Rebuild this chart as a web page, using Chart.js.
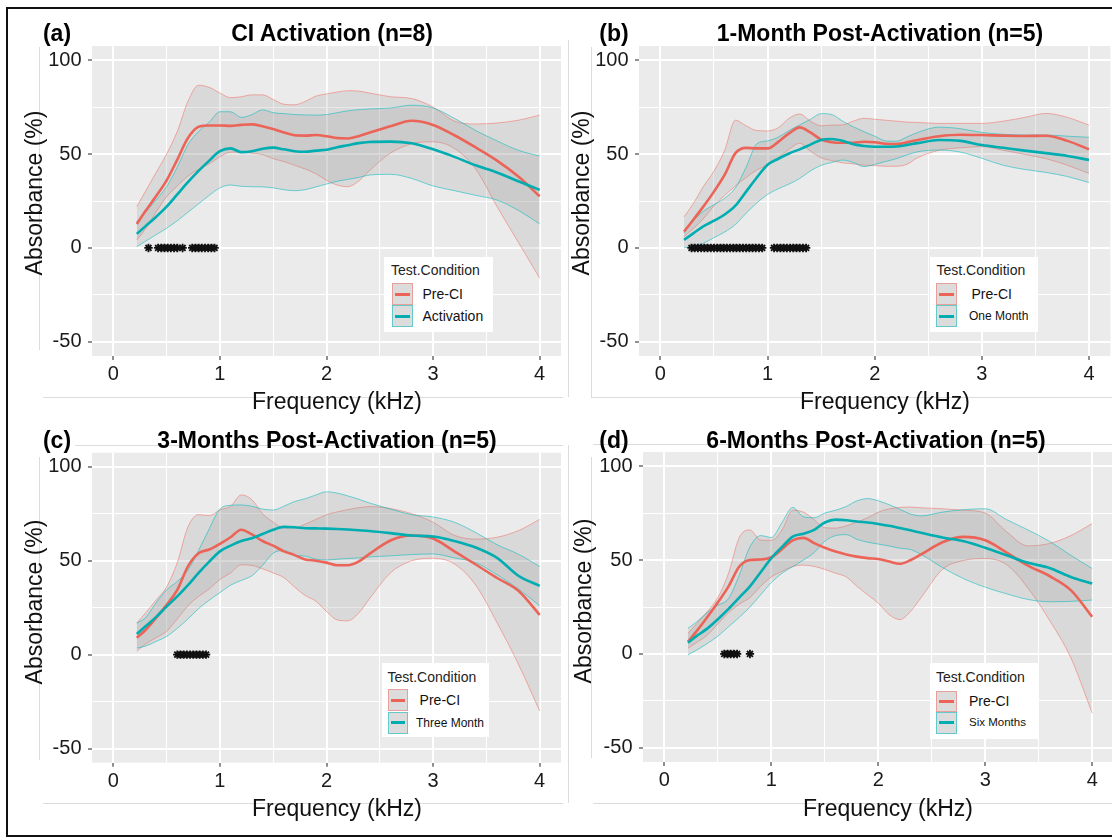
<!DOCTYPE html>
<html>
<head>
<meta charset="utf-8">
<title>Absorbance by test condition</title>
<script src="https://cdn.jsdelivr.net/npm/chart.js@4.4.1/dist/chart.umd.min.js"></script>
<style>
  html, body { margin: 0; padding: 0; background: #fff; }
  body { width: 1112px; height: 839px; overflow: hidden; position: relative;
         font-family: "Liberation Sans", Arial, Helvetica, sans-serif; color: #111; }
  canvas { position: absolute; }
  .frame { position: absolute; left: 6px; top: 7px; width: 1130px; height: 826px; border: 2.5px solid #111; }
  .edge { position: absolute; background: #dcdcdc; }
  .lbl { position: absolute; transform: translate(-50%, -50%); white-space: nowrap; line-height: 1; }
  .ttl { font-weight: bold; font-size: 23px; color: #000; }
  .axt { font-size: 23px; color: #111; }
  .yt { transform: translate(-50%, -50%) rotate(-90deg); }
  .legend { position: absolute; background: #fff; }
  .legend .head { position: absolute; font-size: 14px; color: #222; transform: translateY(-50%); line-height: 1; white-space: nowrap; }
  .legend .key { position: absolute; box-sizing: border-box; background: #dcdcdc; }
  .legend .key i { position: absolute; left: 2px; right: 2px; top: 50%; height: 3px; margin-top: -1.5px; }
  .legend .txt { position: absolute; color: #111; transform: translateY(-50%); line-height: 1; white-space: nowrap; }
</style>
</head>
<body>
<div class="frame"></div>

<!-- panel borders left over from the figure layout -->
<div class="edge" style="left:39px;top:47px;width:1px;height:303px"></div>
<div class="edge" style="left:43px;top:397px;width:520px;height:1px"></div>
<div class="edge" style="left:568px;top:40px;width:1px;height:357px"></div>
<div class="edge" style="left:591px;top:47px;width:1px;height:350px"></div>
<div class="edge" style="left:591px;top:397px;width:521px;height:1px"></div>
<div class="edge" style="left:39px;top:457px;width:1px;height:303px"></div>
<div class="edge" style="left:75px;top:445px;width:488px;height:1px"></div>
<div class="edge" style="left:43px;top:803px;width:520px;height:1px"></div>
<div class="edge" style="left:568px;top:445px;width:1px;height:358px"></div>
<div class="edge" style="left:591px;top:457px;width:1px;height:301px"></div>
<div class="edge" style="left:593px;top:444px;width:519px;height:1px"></div>
<div class="edge" style="left:593px;top:803px;width:519px;height:1px"></div>

<canvas id="chartA" width="560" height="360" style="left:10px;top:40px"></canvas>
<canvas id="chartB" width="560" height="360" style="left:557px;top:40px"></canvas>
<canvas id="chartC" width="560" height="360" style="left:10px;top:446px"></canvas>
<canvas id="chartD" width="560" height="360" style="left:561px;top:446px"></canvas>

<div class="lbl ttl" style="left:57px;top:33px">(a)</div>
<div class="lbl ttl" style="left:332px;top:33px">CI Activation (n=8)</div>
<div class="lbl ttl" style="left:614px;top:33px">(b)</div>
<div class="lbl ttl" style="left:880px;top:33px">1-Month Post-Activation (n=5)</div>
<div class="lbl ttl" style="left:57px;top:440px">(c)</div>
<div class="lbl ttl" style="left:327px;top:440px">3-Months Post-Activation (n=5)</div>
<div class="lbl ttl" style="left:614px;top:440px">(d)</div>
<div class="lbl ttl" style="left:876px;top:440px">6-Months Post-Activation (n=5)</div>

<div class="lbl axt yt" style="left:34px;top:193px">Absorbance (%)</div>
<div class="lbl axt yt" style="left:581px;top:193px">Absorbance (%)</div>
<div class="lbl axt yt" style="left:34px;top:602px">Absorbance (%)</div>
<div class="lbl axt yt" style="left:583px;top:601px">Absorbance (%)</div>
<div class="lbl axt" style="left:337px;top:401px">Frequency (kHz)</div>
<div class="lbl axt" style="left:885px;top:401px">Frequency (kHz)</div>
<div class="lbl axt" style="left:337px;top:808px">Frequency (kHz)</div>
<div class="lbl axt" style="left:888px;top:808px">Frequency (kHz)</div>

<script>
// frequency grid shared by every curve (kHz)
const freqKHz = [0.22, 0.3, 0.4, 0.5, 0.6, 0.7, 0.8, 0.9, 1.0, 1.1, 1.2, 1.3, 1.4, 1.5, 1.6, 1.7, 1.8, 1.9, 2.0, 2.1, 2.2, 2.3, 2.4, 2.6, 2.8, 3.0, 3.2, 3.4, 3.6, 3.8, 4.0];

// axis ticks
const xMajorTicks = [0, 1, 2, 3, 4];
const xMinorTicks = [0.5, 1.5, 2.5, 3.5];
const yMajorTicks = [-50, 0, 50, 100];
const yMinorTicks = [-25, 25, 75];

// (a) CI Activation
const aPreMean  = [12.8, 19.5, 27.5, 36, 47, 58.5, 64.5, 65.2, 65.2, 65, 65.5, 65.8, 64.8, 63.3, 61.5, 60, 59.8, 60.1, 59.5, 58.5, 58.3, 59.5, 61.3, 64.8, 67.7, 65.5, 60, 53.5, 46.5, 38, 27.5];
const aPreHigh  = [22, 30, 40, 50, 62, 78, 86.6, 85.5, 82.5, 80, 80.5, 81.5, 81.5, 79, 76.5, 76.2, 78, 80.8, 82, 83, 83.7, 83.5, 82.5, 80.5, 79.5, 75, 67.5, 66, 66.5, 68, 70.7];
const aPreLow   = [4.3, 10, 19, 27.3, 33, 38.3, 41.8, 44.8, 48.5, 51, 51, 50.5, 49.7, 47.5, 46, 44, 42, 39.5, 36, 33.5, 32.6, 35.5, 41, 50.5, 55.5, 56.5, 53, 42, 22, 3, -16.1];
const aPostMean = [7.5, 11.5, 16.5, 22, 28.5, 35, 41, 46.5, 51.5, 53, 51, 51.5, 52.8, 53.4, 52.5, 51.5, 51.2, 51.8, 52.3, 53.6, 54.7, 55.8, 56.4, 56.6, 55.7, 52.5, 48.5, 44, 40.2, 35.5, 30.9];
const aPostHigh = [14, 19, 25.5, 32.6, 43, 55, 62, 67, 72.5, 72.5, 69.5, 71, 73.5, 72, 71.5, 71, 70.8, 70.7, 71, 72, 73, 73.6, 74, 74.5, 76, 74.5, 69, 62.5, 57, 52, 48.9];
const aPostLow  = [0.7, 3.5, 7, 10.5, 14.5, 19, 23.5, 28, 32, 33.5, 32.8, 32.6, 32.5, 32, 31, 30.5, 31, 32.5, 34, 35.5, 36.5, 37.5, 38.8, 39.2, 37, 33, 30.5, 28, 25.5, 20, 12.8];
const aSigFreq  = [0.33, 0.42, 0.45, 0.48, 0.51, 0.54, 0.57, 0.60, 0.65, 0.74, 0.77, 0.80, 0.83, 0.86, 0.89, 0.92, 0.95];

// (b) 1 month post-activation
const bPreMean  = [8.7, 14.5, 22, 30, 39, 50.5, 53.3, 53, 53, 56.5, 61, 64.2, 61.5, 57.7, 56.3, 56, 56, 56.5, 56.3, 55.5, 55.3, 56.2, 57.5, 59.5, 60.3, 60.1, 59.8, 59.6, 59.7, 57, 52.5];
const bPreHigh  = [16.6, 23, 32.6, 41, 52, 68, 65, 62.5, 62.3, 64, 69, 71.3, 67.5, 65, 65.4, 65.5, 67.5, 69, 68.5, 68, 67.5, 67, 66.8, 66.3, 66.3, 66.3, 67.5, 69.5, 71.6, 69.5, 65.4];
const bPreLow   = [6, 10, 15.5, 22.5, 28, 33, 37.5, 41.5, 44.3, 48, 52.5, 55.7, 51.5, 48, 46.5, 45.3, 44.8, 44.1, 43.8, 43.5, 43.5, 44.5, 48, 52, 53.3, 53.9, 52, 49.8, 47.5, 44, 39.7];
const bPostMean = [4.3, 7.5, 11.5, 14.5, 17.8, 22.5, 30, 37.5, 44.3, 47.5, 50.3, 52.5, 55, 57.5, 58, 57, 55.2, 54.3, 53.9, 53.9, 54, 54.8, 55.8, 57.5, 57, 54.8, 53.3, 51.8, 50.5, 49, 46.8];
const bPostHigh = [8, 14, 19.5, 23, 26.5, 32, 43, 55.5, 57, 59, 62.5, 65.5, 68.5, 71.5, 71, 67.5, 64.5, 61.9, 59.5, 57, 56.8, 59, 61.5, 64.3, 63.5, 61.5, 60.5, 60.1, 60.1, 59.5, 58.9];
const bPostLow  = [0, 1, 2.5, 5.5, 8.5, 12.5, 18.5, 24, 28.5, 31.5, 34, 37, 41, 44, 45.5, 46.8, 45.5, 43.3, 44.5, 46, 47.5, 49.5, 51.2, 52.1, 51, 47.7, 44, 41.8, 40.2, 38, 34.8];
const bSigFreq  = [0.29, 0.32, 0.35, 0.38, 0.41, 0.44, 0.47, 0.50, 0.53, 0.56, 0.59, 0.62, 0.65, 0.68, 0.71, 0.74, 0.77, 0.80, 0.83, 0.86, 0.89, 0.92, 0.95,
                   1.06, 1.09, 1.12, 1.15, 1.18, 1.21, 1.24, 1.27, 1.30, 1.33, 1.36];

// (c) 3 months post-activation
const cPreMean  = [9, 13, 19.5, 26.5, 34.5, 47, 54, 56, 59, 62.5, 66.5, 64, 60.5, 58, 55, 53, 50.7, 50, 49, 47.6, 47.6, 49.5, 53.5, 60.8, 63.4, 61.8, 55, 48, 40.8, 34, 21.2];
const cPreHigh  = [16.8, 22, 29, 36, 49, 68, 74.5, 74, 77, 79, 85, 82.5, 75, 70.5, 67.5, 67.5, 69.5, 72, 74.5, 76, 77.2, 78.2, 78.8, 77.8, 75, 70.5, 63.5, 61.5, 62.5, 66, 72];
const cPreLow   = [1.8, 5.5, 9, 12.4, 19, 26, 31, 35, 40, 43.5, 47.8, 47.5, 45.7, 43.5, 41, 36, 31.5, 28.5, 23, 18.5, 18, 22, 29.5, 43.5, 50, 51.3, 48.3, 37, 17, -5, -30];
const cPostMean = [11, 15, 20, 25.6, 31, 37, 43.5, 49.5, 55, 58, 60.5, 62, 64.2, 66.5, 68, 67.8, 67.3, 67.2, 67.1, 66.9, 66.6, 66.2, 65.8, 64.7, 63.4, 62.9, 60.5, 57, 51.5, 42, 36.6];
const cPostHigh = [16.8, 19.5, 27.5, 34.5, 39, 45, 55.5, 67, 77.5, 79.5, 79.7, 79, 77.5, 77, 79, 81.5, 83, 85, 86.7, 86, 84.5, 82.8, 80.8, 77.5, 74.5, 73.3, 70.5, 65, 58.5, 53.5, 46.9];
const cPostLow  = [3.5, 4.5, 7, 9.7, 14, 19, 24.5, 29, 33, 37, 39.5, 42, 47.5, 54, 55.5, 53, 52.5, 50.8, 50.4, 50.8, 51.2, 51.5, 52, 52.6, 53.3, 53.6, 51.5, 49, 42.5, 35, 26];
const cSigFreq  = [0.60, 0.63, 0.66, 0.69, 0.72, 0.75, 0.78, 0.81, 0.84, 0.87];

// (d) 6 months post-activation
const dPreMean  = [6.6, 12, 19.5, 27.5, 36, 46.5, 50, 50.3, 51.5, 55.8, 60.5, 61.8, 59, 56.5, 54.5, 53, 51.8, 51, 50.5, 49.2, 48, 49.9, 53, 59.5, 62.3, 60.5, 54, 47, 41.5, 34, 19.8];
const dPreHigh  = [11, 16, 22.5, 30, 43, 62, 66, 60.6, 60.5, 66, 76.5, 75.5, 71.5, 67.2, 67, 68.2, 70.2, 72.5, 75.5, 77.2, 78, 78.2, 77.8, 77.3, 76.5, 75, 65, 57.5, 58.8, 63, 69.4];
const dPreLow   = [3, 6, 10, 16, 22, 26.5, 30, 36, 41, 44, 46.5, 47.3, 46.6, 45, 43, 41, 36, 31.5, 27, 21, 18.3, 22.5, 30, 45, 49.8, 50.8, 47.5, 35, 18, -2, -31.5];
const dPostMean = [6, 9.5, 13.5, 18.5, 24, 30, 36, 43.5, 51, 57, 62.5, 64, 66, 70, 71.5, 71.2, 70.5, 70, 69.2, 68.2, 67, 65.8, 64.5, 62, 60, 56.5, 52.5, 48.5, 45.8, 41, 37.5];
const dPostHigh = [13.7, 17, 22, 26, 29.5, 42, 57, 63, 62, 70, 78, 73, 72.5, 75, 76.5, 78.5, 81.5, 82.7, 81.5, 79.5, 77, 74.5, 73.5, 75.5, 76.8, 77.3, 71.5, 66, 60, 52.5, 45.5];
const dPostLow  = [-0.5, 2, 5.5, 9.5, 14.5, 19.5, 25, 31.5, 38, 43, 46.5, 50, 54, 60, 63, 63.5, 61, 59.5, 58.5, 57.5, 56.3, 55.6, 53, 46, 40, 35.5, 32, 29, 27.8, 28, 28.7];
const dSigFreq  = [0.56, 0.59, 0.62, 0.65, 0.68, 0.80];

const RED = '#EC6458';
const TEAL = '#00ADB1';
const RED_EDGE = 'rgba(242, 112, 102, 0.55)';
const TEAL_EDGE = 'rgba(0, 186, 190, 0.55)';
const BAND = 'rgba(153, 153, 153, 0.22)';
const FONT = "'Liberation Sans', Arial, Helvetica, sans-serif";

// grey panel behind the grid, like ggplot's theme_grey
const panelBackground = {
    id: 'panelBackground',
    beforeDraw(chart) {
        const { ctx, chartArea: a } = chart;
        ctx.save();
        ctx.fillStyle = '#EBEBEB';
        ctx.fillRect(a.left, a.top, a.right - a.left, a.bottom - a.top);
        ctx.restore();
    }
};

function points(values) {
    return freqKHz.map((f, i) => ({ x: f, y: values[i] }));
}

function makeChart(canvasId, pad, labels, pre, post, sigFreq) {
    const ctx = document.getElementById(canvasId).getContext('2d');
    const edge = (label, values, color, order, fill) => ({
        label: label, data: points(values), borderColor: color, borderWidth: 1,
        pointRadius: 0, fill: fill, backgroundColor: BAND, order: order
    });
    return new Chart(ctx, {
        type: 'line',
        data: {
            datasets: [
                edge(labels[0] + ' low', pre.low, RED_EDGE, 6, '+1'),
                edge(labels[0] + ' high', pre.high, RED_EDGE, 5, false),
                edge(labels[1] + ' low', post.low, TEAL_EDGE, 4, '+1'),
                edge(labels[1] + ' high', post.high, TEAL_EDGE, 3, false),
                { label: labels[0], data: points(pre.mean), borderColor: RED, borderWidth: 2.6, pointRadius: 0, fill: false, order: 2 },
                { label: labels[1], data: points(post.mean), borderColor: TEAL, borderWidth: 2.6, pointRadius: 0, fill: false, order: 1 },
                {
                    label: 'p < .05', data: sigFreq.map(f => ({ x: f, y: 0 })), showLine: false,
                    pointStyle: 'star', pointRadius: 4.2, pointBorderWidth: 1.8,
                    pointBorderColor: '#111', pointBackgroundColor: '#111', order: 0
                }
            ]
        },
        options: {
            responsive: false,
            animation: false,
            devicePixelRatio: 1,
            layout: { padding: pad },
            elements: { line: { cubicInterpolationMode: 'monotone' } },
            plugins: {
                legend: { display: false },
                title: { display: false },
                tooltip: { enabled: false }
            },
            scales: {
                x: {
                    type: 'linear', min: -0.2, max: 4.2,
                    afterBuildTicks: s => { s.ticks = xMajorTicks.concat(xMinorTicks).sort((p, q) => p - q).map(v => ({ value: v })); },
                    afterFit: s => { s.height = 40; s.paddingLeft = 0; s.paddingRight = 0; },
                    border: { display: false },
                    grid: {
                        color: '#fff',
                        lineWidth: c => xMajorTicks.includes(c.tick.value) ? 2 : 1,
                        tickLength: 4, tickWidth: 1.1,
                        tickColor: c => xMajorTicks.includes(c.tick.value) ? '#333' : 'rgba(0,0,0,0)'
                    },
                    ticks: {
                        autoSkip: false, maxRotation: 0, padding: 2.5, color: '#1a1a1a',
                        font: { family: FONT, size: 20 },
                        callback: v => xMajorTicks.includes(v) ? String(v) : ''
                    }
                },
                y: {
                    type: 'linear', min: -57.5, max: 107.5,
                    afterBuildTicks: s => { s.ticks = yMajorTicks.concat(yMinorTicks).sort((p, q) => p - q).map(v => ({ value: v })); },
                    afterFit: s => { s.width = 82; s.paddingTop = 0; s.paddingBottom = 0; },
                    border: { display: false },
                    grid: {
                        color: '#fff',
                        lineWidth: c => yMajorTicks.includes(c.tick.value) ? 2 : 1,
                        tickLength: 4, tickWidth: 1.1,
                        tickColor: c => yMajorTicks.includes(c.tick.value) ? '#333' : 'rgba(0,0,0,0)'
                    },
                    ticks: {
                        autoSkip: false, padding: 6.5, color: '#1a1a1a',
                        font: { family: FONT, size: 20 },
                        callback: v => yMajorTicks.includes(v) ? String(v) : ''
                    }
                }
            }
        },
        plugins: [panelBackground]
    });
}

// legend box built from the chart's own mean and band datasets
function addLegend(chart, box) {
    const div = document.createElement('div');
    div.className = 'legend';
    div.style.left = box.left + 'px';
    div.style.top = box.top + 'px';
    div.style.width = box.w + 'px';
    div.style.height = box.h + 'px';

    const head = document.createElement('div');
    head.className = 'head';
    head.textContent = 'Test.Condition';
    head.style.left = box.titleX + 'px';
    head.style.top = box.titleY + 'px';
    div.appendChild(head);

    const ds = chart.data.datasets;
    const entries = [
        { label: ds[4].label, line: ds[4].borderColor, edge: ds[0].borderColor },
        { label: ds[5].label, line: ds[5].borderColor, edge: ds[2].borderColor }
    ];
    entries.forEach((e, i) => {
        const key = document.createElement('div');
        key.className = 'key';
        key.style.left = box.keyX + 'px';
        key.style.top = box.keyY[i] + 'px';
        key.style.width = box.keyW + 'px';
        key.style.height = box.keyH + 'px';
        key.style.border = '1px solid ' + e.edge;
        const stroke = document.createElement('i');
        stroke.style.background = e.line;
        key.appendChild(stroke);
        div.appendChild(key);

        const txt = document.createElement('div');
        txt.className = 'txt';
        txt.textContent = e.label;
        txt.style.left = box.textX[i] + 'px';
        txt.style.top = (box.keyY[i] + box.keyH / 2) + 'px';
        txt.style.fontSize = box.sizes[i] + 'px';
        div.appendChild(txt);
    });
    document.body.appendChild(div);
}

const chartA = makeChart('chartA', { left: 0, top: 6, right: 9, bottom: 4 }, ['Pre-CI', 'Activation'],
    { mean: aPreMean, low: aPreLow, high: aPreHigh }, { mean: aPostMean, low: aPostLow, high: aPostHigh }, aSigFreq);
const chartB = makeChart('chartB', { left: 0, top: 6, right: 6.6, bottom: 4 }, ['Pre-CI', 'One Month'],
    { mean: bPreMean, low: bPreLow, high: bPreHigh }, { mean: bPostMean, low: bPostLow, high: bPostHigh }, bSigFreq);
const chartC = makeChart('chartC', { left: 0, top: 6.7, right: 9, bottom: 3.3 }, ['Pre-CI', 'Three Month'],
    { mean: cPreMean, low: cPreLow, high: cPreHigh }, { mean: cPostMean, low: cPostLow, high: cPostHigh }, cSigFreq);
const chartD = makeChart('chartD', { left: 0, top: 5.7, right: 7.4, bottom: 4 }, ['Pre-CI', 'Six Months'],
    { mean: dPreMean, low: dPreLow, high: dPreHigh }, { mean: dPostMean, low: dPostLow, high: dPostHigh }, dSigFreq);

addLegend(chartA, { left: 384, top: 257, w: 109, h: 75, titleX: 7, titleY: 13, keyX: 8, keyY: [26, 48], keyW: 20.5, keyH: 22, textX: [38.5, 38.5], sizes: [14, 14] });
addLegend(chartB, { left: 930, top: 257, w: 108, h: 75, titleX: 6.5, titleY: 13, keyX: 6, keyY: [26, 48], keyW: 21, keyH: 22, textX: [41.5, 39], sizes: [14, 12] });
addLegend(chartC, { left: 382, top: 663, w: 107, h: 74, titleX: 5.5, titleY: 13.5, keyX: 5.5, keyY: [26, 48.5], keyW: 20.5, keyH: 22, textX: [37.6, 34], sizes: [14, 12] });
addLegend(chartD, { left: 930, top: 663, w: 108, h: 76, titleX: 6, titleY: 14, keyX: 6, keyY: [27.5, 49], keyW: 21, keyH: 21.5, textX: [39, 39], sizes: [14, 11.5] });
</script>
</body>
</html>
